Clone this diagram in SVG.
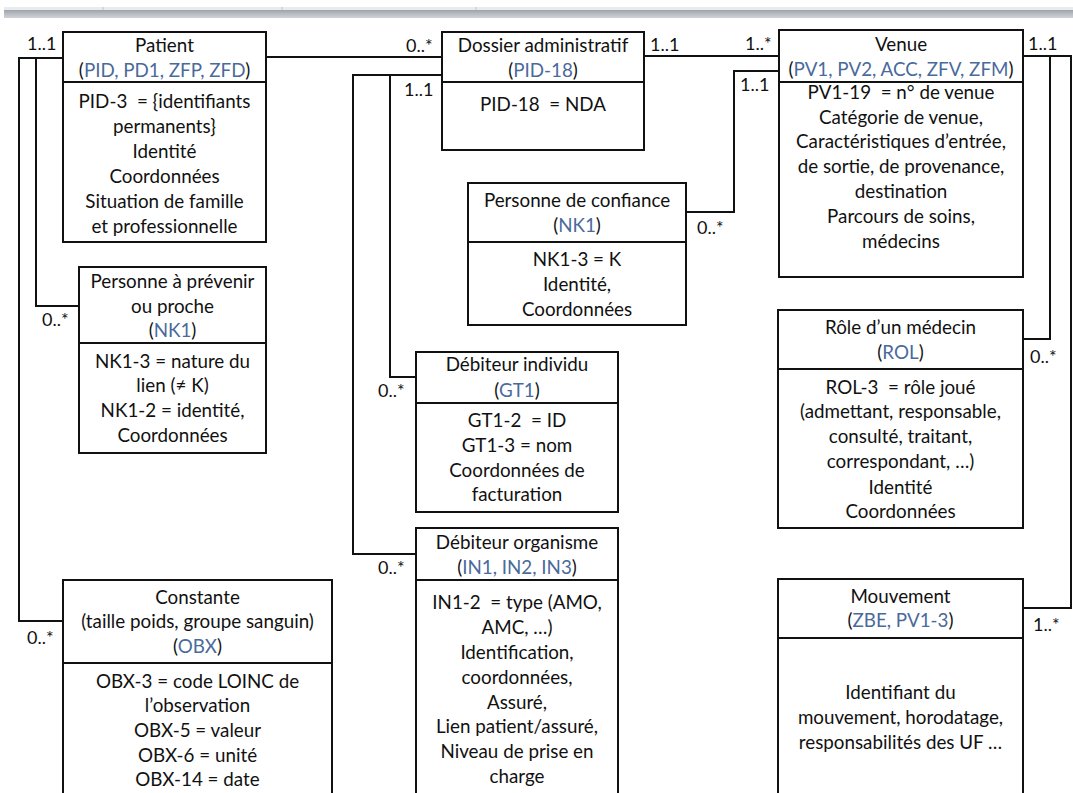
<svg xmlns="http://www.w3.org/2000/svg" width="1073" height="793" viewBox="0 0 1073 793">
<defs>
<linearGradient id="band" x1="0" y1="0" x2="0" y2="1">
<stop offset="0" stop-color="#9ea3aa"/>
<stop offset="0.5" stop-color="#b9bdc3"/>
<stop offset="1" stop-color="#cfd2d6"/>
</linearGradient>
<style>
.box{fill:#fff;stroke:#111;stroke-width:2}
.div{stroke:#111;stroke-width:2}
.con{fill:none;stroke:#111;stroke-width:2}
text{font-family:Lato,"Liberation Sans",sans-serif;font-size:18.8px;fill:#111;text-anchor:middle}
.lbl{text-anchor:start;font-size:18px}
.b{fill:#4a6a9c}
</style>
</defs>
<rect x="0" y="0" width="1073" height="793" fill="#fff"/>
<g id="topband">
<rect x="4" y="7" width="1069" height="3" fill="#e8ebf0"/>
<rect x="4" y="10" width="1069" height="8" fill="url(#band)"/>
<line x1="103" y1="7" x2="103" y2="10" stroke="#c0c4ca"/>
<line x1="282" y1="7" x2="282" y2="10" stroke="#c0c4ca"/>
<line x1="476" y1="7" x2="476" y2="10" stroke="#c0c4ca"/>
</g>
<g id="connectors">
<polyline class="con" points="63,58 19,58 19,621 63,621"/>
<polyline class="con" points="36,58 36,306 79,306"/>
<line class="con" x1="266" y1="57" x2="442" y2="57"/>
<polyline class="con" points="442,75 353,75 353,554 416,554"/>
<polyline class="con" points="390,75 390,377 416,377"/>
<line class="con" x1="644" y1="56" x2="779" y2="56"/>
<polyline class="con" points="779,71 734,71 734,212 686,212"/>
<polyline class="con" points="1023,56 1071,56 1071,608 1023,608"/>
<polyline class="con" points="1050,56 1050,339 1023,339"/>
</g>
<g id="labels">
<text class="lbl" x="27" y="50">1..1</text>
<text class="lbl" x="42" y="326">0..*</text>
<text class="lbl" x="27" y="644">0..*</text>
<text class="lbl" x="406" y="52">0..*</text>
<text class="lbl" x="404" y="96">1..1</text>
<text class="lbl" x="378" y="397">0..*</text>
<text class="lbl" x="378" y="574">0..*</text>
<text class="lbl" x="650" y="51">1..1</text>
<text class="lbl" x="745" y="50">1..*</text>
<text class="lbl" x="740" y="91">1..1</text>
<text class="lbl" x="697" y="234">0..*</text>
<text class="lbl" x="1028" y="50">1..1</text>
<text class="lbl" x="1030" y="363">0..*</text>
<text class="lbl" x="1033" y="631">1..*</text>
</g>
<g id="patient">
<rect class="box" x="63" y="32" width="203" height="210"/>
<line class="div" x1="63" y1="82" x2="266" y2="82"/>
<text x="164.5" y="52">Patient</text>
<text x="164.5" y="77">(<tspan class="b">PID, PD1, ZFP, ZFD</tspan>)</text>
<text x="164.5" y="108">PID-3 &#160;= {identifiants</text>
<text x="164.5" y="133">permanents}</text>
<text x="164.5" y="158">Identité</text>
<text x="164.5" y="183">Coordonnées</text>
<text x="164.5" y="208">Situation de famille</text>
<text x="164.5" y="233">et professionnelle</text>
</g>
<g id="dossier">
<rect class="box" x="442" y="32" width="202" height="118"/>
<line class="div" x1="442" y1="82" x2="644" y2="82"/>
<text x="543" y="52">Dossier administratif</text>
<text x="543" y="77">(<tspan class="b">PID-18</tspan>)</text>
<text x="543" y="111">PID-18 &#160;= NDA</text>
</g>
<g id="venue">
<rect class="box" x="779" y="30" width="244" height="247"/>
<line class="div" x1="779" y1="82" x2="1023" y2="82"/>
<text x="901" y="51">Venue</text>
<text x="901" y="76">(<tspan class="b">PV1, PV2, ACC, ZFV, ZFM</tspan>)</text>
<text x="901" y="99">PV1-19 &#160;= n° de venue</text>
<text x="901" y="124">Catégorie de venue,</text>
<text x="901" y="148">Caractéristiques d’entrée,</text>
<text x="901" y="173">de sortie, de provenance,</text>
<text x="901" y="198">destination</text>
<text x="901" y="223">Parcours de soins,</text>
<text x="901" y="248">médecins</text>
</g>
<g id="confiance">
<rect class="box" x="468" y="183" width="218" height="142"/>
<line class="div" x1="468" y1="242" x2="686" y2="242"/>
<text x="577" y="207">Personne de confiance</text>
<text x="577" y="232">(<tspan class="b">NK1</tspan>)</text>
<text x="577" y="266">NK1-3 = K</text>
<text x="577" y="291">Identité,</text>
<text x="577" y="316">Coordonnées</text>
</g>
<g id="prevenir">
<rect class="box" x="79" y="267" width="187" height="186"/>
<line class="div" x1="79" y1="343" x2="266" y2="343"/>
<text x="172.5" y="288">Personne à prévenir</text>
<text x="172.5" y="313">ou proche</text>
<text x="172.5" y="337">(<tspan class="b">NK1</tspan>)</text>
<text x="172.5" y="368">NK1-3 = nature du</text>
<text x="172.5" y="392">lien (≠ K)</text>
<text x="172.5" y="417">NK1-2 = identité,</text>
<text x="172.5" y="442">Coordonnées</text>
</g>
<g id="debiteur-individu">
<rect class="box" x="416" y="352" width="202" height="160"/>
<line class="div" x1="416" y1="403" x2="618" y2="403"/>
<text x="517" y="371">Débiteur individu</text>
<text x="517" y="397">(<tspan class="b">GT1</tspan>)</text>
<text x="517" y="427">GT1-2 &#160;= ID</text>
<text x="517" y="452">GT1-3 = nom</text>
<text x="517" y="477">Coordonnées de</text>
<text x="517" y="501">facturation</text>
</g>
<g id="role">
<rect class="box" x="778" y="310" width="245" height="218"/>
<line class="div" x1="778" y1="369" x2="1023" y2="369"/>
<text x="900.5" y="334">Rôle d’un médecin</text>
<text x="900.5" y="359">(<tspan class="b">ROL</tspan>)</text>
<text x="900.5" y="394">ROL-3 &#160;= rôle joué</text>
<text x="900.5" y="418">(admettant, responsable,</text>
<text x="900.5" y="443">consulté, traitant,</text>
<text x="900.5" y="468">correspondant, …)</text>
<text x="900.5" y="494">Identité</text>
<text x="900.5" y="518">Coordonnées</text>
</g>
<g id="debiteur-organisme">
<rect class="box" x="416" y="528" width="202" height="280"/>
<line class="div" x1="416" y1="580" x2="618" y2="580"/>
<text x="517" y="549">Débiteur organisme</text>
<text x="517" y="574">(<tspan class="b">IN1, IN2, IN3</tspan>)</text>
<text x="517" y="609">IN1-2 &#160;= type (AMO,</text>
<text x="517" y="634">AMC, …)</text>
<text x="517" y="659">Identification,</text>
<text x="517" y="684">coordonnées,</text>
<text x="517" y="709">Assuré,</text>
<text x="517" y="733">Lien patient/assuré,</text>
<text x="517" y="758">Niveau de prise en</text>
<text x="517" y="783">charge</text>
</g>
<g id="constante">
<rect class="box" x="63" y="580" width="269" height="230"/>
<line class="div" x1="63" y1="663" x2="332" y2="663"/>
<text x="197.5" y="604">Constante</text>
<text x="197.5" y="628">(taille poids, groupe sanguin)</text>
<text x="197.5" y="653">(<tspan class="b">OBX</tspan>)</text>
<text x="197.5" y="688">OBX-3 = code LOINC de</text>
<text x="197.5" y="712">l’observation</text>
<text x="197.5" y="737">OBX-5 = valeur</text>
<text x="197.5" y="762">OBX-6 = unité</text>
<text x="197.5" y="786">OBX-14 = date</text>
</g>
<g id="mouvement">
<rect class="box" x="778" y="579" width="245" height="230"/>
<line class="div" x1="778" y1="638" x2="1023" y2="638"/>
<text x="900.5" y="603">Mouvement</text>
<text x="900.5" y="627">(<tspan class="b">ZBE, PV1-3</tspan>)</text>
<text x="900.5" y="699">Identifiant du</text>
<text x="900.5" y="724">mouvement, horodatage,</text>
<text x="900.5" y="749">responsabilités des UF …</text>
</g>
</svg>
